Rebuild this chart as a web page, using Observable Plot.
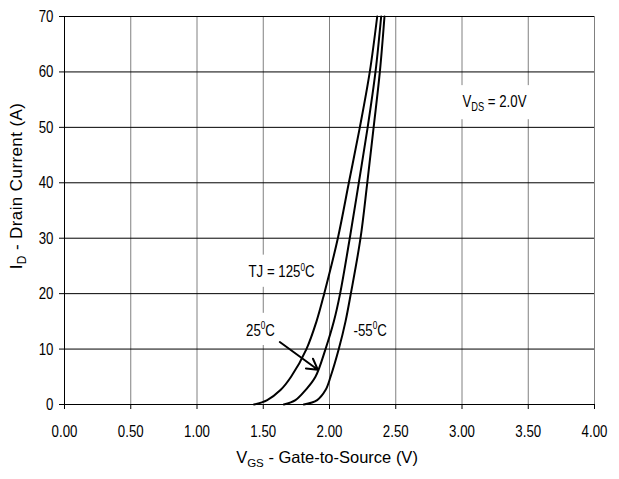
<!DOCTYPE html>
<html><head><meta charset="utf-8">
<script src="https://cdn.jsdelivr.net/npm/d3@7"></script>
<script src="https://cdn.jsdelivr.net/npm/@observablehq/plot@0.6"></script>
<style>
html,body{margin:0;padding:0;background:#fff;}
#chart{width:619px;height:479px;overflow:hidden;}
</style></head><body><div id="chart"></div>
<script>
// Drain current levels (A) at which each curve was read
const idLevels = [0, 0.8, 2.6, 5, 10, 15, 20, 30, 40, 50, 60, 70];
// Gate-to-source voltage (V) for each temperature
const vgs125 = [1.43, 1.53, 1.63, 1.71, 1.826, 1.902, 1.96, 2.063, 2.146, 2.229, 2.304, 2.36];
const vgs25  = [1.655, 1.743, 1.819, 1.894, 1.97, 2.033, 2.08, 2.153, 2.221, 2.288, 2.347, 2.39];
const vgsM55 = [1.806, 1.907, 1.97, 2.008, 2.07, 2.121, 2.161, 2.234, 2.285, 2.333, 2.38, 2.415];
const seriesNames = ["125", "25", "-55"];

const xTicks = [0, 0.5, 1, 1.5, 2, 2.5, 3, 3.5, 4];
const yTicks = [0, 10, 20, 30, 40, 50, 60, 70];

const labelText = ["TJ = 125^{0}C", "25^{0}C", "-55^{0}C", "V_{DS} = 2.0V"];
const labelX = [1.638, 1.479, 2.307, 3.245];
const labelY = [23.9, 13.4, 13.3, 54.7];

const arrowX1 = [1.625], arrowY1 = [11.27], arrowX2 = [1.912], arrowY2 = [6.28];

const xTitle = "V_{GS} - Gate-to-Source (V)";
const yTitle = "I_{D} - Drain Current (A)";

// build tables
const curves = [];
[vgs125, vgs25, vgsM55].forEach((arr, s) => arr.forEach((v, i) => curves.push({series: seriesNames[s], vgs: v, id: idLevels[i]})));
const labels = labelText.map((t, i) => ({text: t, x: labelX[i], y: labelY[i]}));
const arrows = arrowX1.map((d, i) => ({x1: arrowX1[i], y1: arrowY1[i], x2: arrowX2[i], y2: arrowY2[i]}));

const FONT = "'Liberation Sans',Arial,sans-serif";
const NARROW = 0.78;

const plot = Plot.plot({
  width: 619, height: 479,
  marginLeft: 64, marginRight: 25, marginTop: 16, marginBottom: 75,
  style: {fontFamily: FONT, fontSize: "17px", color: "black", background: "white"},
  x: {domain: [0, 4]},
  y: {domain: [0, 70]},
  marks: [
    Plot.gridX({ticks: xTicks.slice(1), stroke: "#808080", strokeOpacity: 1, strokeWidth: 1}),
    Plot.gridY({ticks: yTicks.slice(1), stroke: "#000", strokeOpacity: 1, strokeWidth: 1}),
    Plot.text(labels, {x: "x", y: "y", text: "text", fill: "black", fontSize: 17}),
    Plot.ruleX([0], {stroke: "black"}),
    Plot.ruleY([0], {stroke: "black"}),
    Plot.axisX({ticks: xTicks, tickFormat: d => d.toFixed(2), tickSize: 5, tickPadding: 15, label: null, fontSize: 17}),
    Plot.axisY({ticks: yTicks, tickSize: 5, tickPadding: 6, label: null, fontSize: 17}),
    Plot.line(curves, {x: "vgs", y: "id", z: "series", stroke: "black", strokeWidth: 2, curve: "catmull-rom"}),
    Plot.arrow(arrows, {x1: "x1", y1: "y1", x2: "x2", y2: "y2", stroke: "black", strokeWidth: 2, headLength: 9})
  ]
});
document.getElementById("chart").append(plot);

const SVGNS = "http://www.w3.org/2000/svg";
function rich(el, str, base) {
  const parts = str.split(/(_\{[^}]*\}|\^\{[^}]*\})/).filter(s => s.length);
  el.textContent = "";
  let shift = 0;
  for (const p of parts) {
    const t = document.createElementNS(SVGNS, "tspan");
    let target = 0, fs = base, txt = p;
    if (p.startsWith("_{")) { target = 0.25 * base; fs = 0.7 * base; txt = p.slice(2, -1); }
    else if (p.startsWith("^{")) { target = -0.4 * base; fs = 0.62 * base; txt = p.slice(2, -1); }
    t.setAttribute("dy", target - shift); shift = target;
    t.setAttribute("font-size", fs);
    t.textContent = txt;
    el.appendChild(t);
  }
}
// horizontally condense a text element around its anchor point
function narrow(t, k) {
  const x = t.getAttribute("x");
  let tr = t.getAttribute("transform") || "";
  if (x != null && /^\s*-?[\d.]+(e-?\d+)?\s*$/.test(x)) {
    tr += ` translate(${+x},0)`;
    t.removeAttribute("x");
  }
  t.setAttribute("transform", (tr + ` scale(${k},1)`).trim());
}

const svg = plot.tagName.toLowerCase() === "svg" ? plot : plot.querySelector("svg");
const allText = Array.from(svg.querySelectorAll("text"));
const labelEls = allText.filter(t => labelText.includes(t.textContent));
allText.forEach(t => narrow(t, NARROW));
labelEls.forEach(t => {
  rich(t, t.textContent, 17);
  const b = t.getBBox();
  const padX = 9, padY = 6;
  const r = document.createElementNS(SVGNS, "rect");
  r.setAttribute("x", b.x - padX); r.setAttribute("y", b.y - padY);
  r.setAttribute("width", b.width + 2 * padX); r.setAttribute("height", b.height + 2 * padY);
  r.setAttribute("fill", "white"); r.setAttribute("stroke", "none");
  const tr = t.getAttribute("transform"); if (tr) r.setAttribute("transform", tr);
  t.parentNode.insertBefore(r, t);
});

// axis titles
const s = d3.select(svg);
const xt = s.append("text").attr("x", 327).attr("y", 463).attr("dy", "0.35em")
  .attr("text-anchor", "middle").attr("font-size", 16.5).attr("fill", "black");
rich(xt.node(), xTitle, 16.5);
const yt = s.append("text").attr("transform", "translate(22,186) rotate(-90)").attr("dy", "0.35em")
  .attr("text-anchor", "middle").attr("font-size", 17).attr("letter-spacing", 0.4).attr("fill", "black");
rich(yt.node(), yTitle, 17);
</script>
</body></html>
